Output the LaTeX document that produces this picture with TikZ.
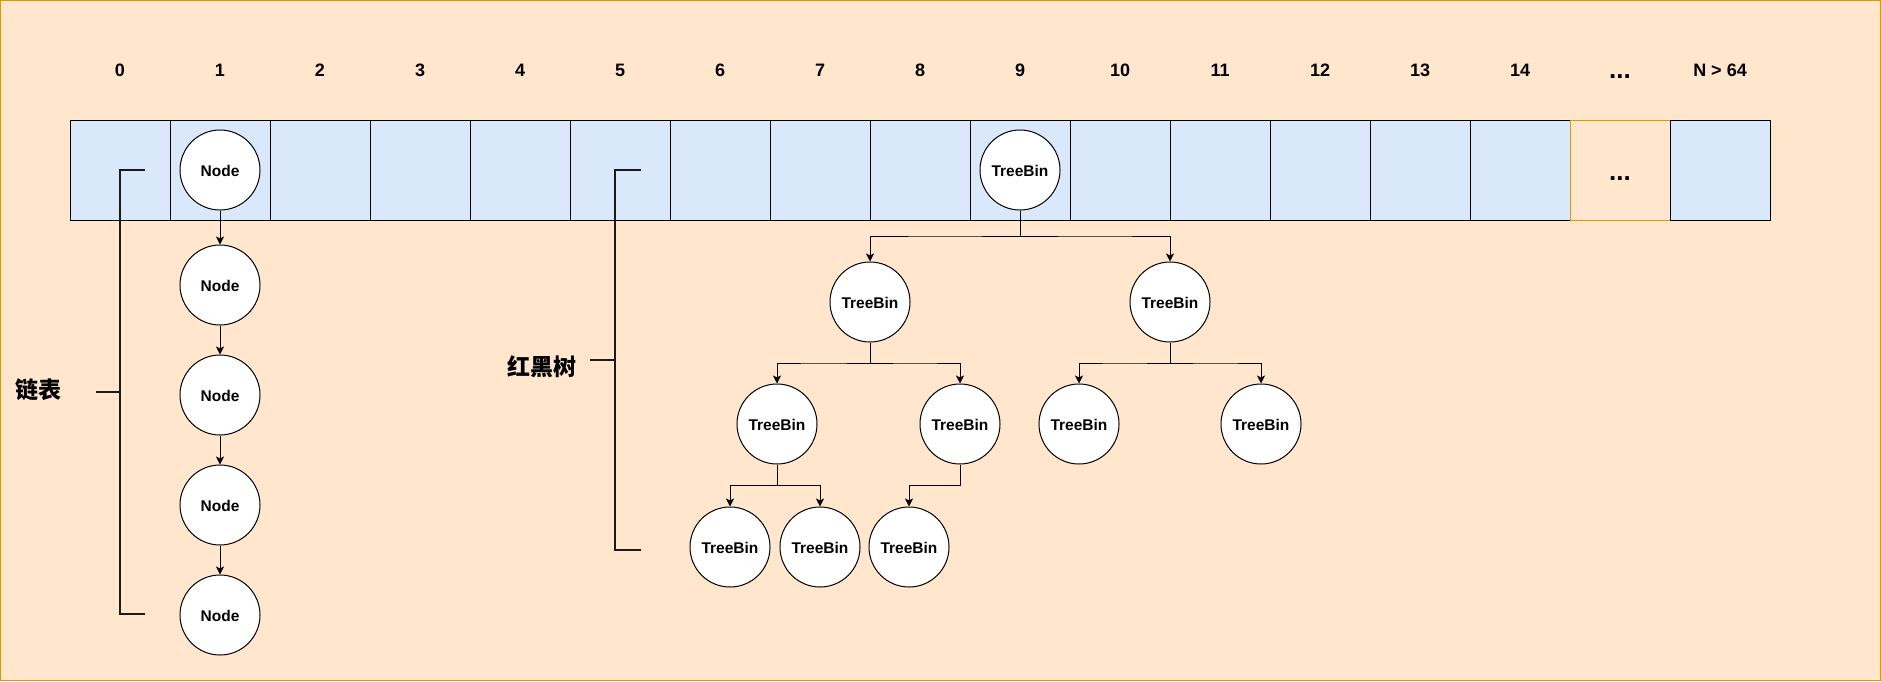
\documentclass[tikz,border=0pt]{standalone}
\usepackage{fontspec}
\setmainfont{Liberation Sans}
\newfontfamily\cjk{Noto Sans CJK SC}
\usetikzlibrary{arrows.meta,calc}

\definecolor{paper}{HTML}{FFE6CC}
\definecolor{paperline}{HTML}{D79B00}
\definecolor{slotfill}{HTML}{DAE8FC}
\definecolor{ink}{HTML}{1A1A1A}

\tikzset{
  slot/.style={draw=black, fill=slotfill, line width=1pt, minimum width=100pt,
    minimum height=100pt, inner sep=0pt, outer sep=0pt},
  gapslot/.style={slot, draw=paperline, fill=paper},
  idx/.style={anchor=base, inner sep=0pt, font=\bfseries\fontsize{18}{21}\selectfont},
  dots/.style={anchor=base, inner sep=0pt, font=\bfseries\fontsize{26}{30}\selectfont},
  ball/.style={circle, draw=black, fill=white, line width=1pt, minimum size=80pt,
    inner sep=0pt, font=\bfseries\fontsize{15.5}{18}\selectfont,
    text height=12.6pt, text depth=0pt},
  link/.style={line width=1pt, -{Stealth[length=8pt,width=8pt,inset=2pt]}},
  branch/.style={link,
    to path={|- ($(\tikztostart)!0.5!(\tikztotarget)$) -| (\tikztotarget) \tikztonodes}},
  brace/.style={draw=ink, line width=2pt, line cap=butt, line join=miter},
  tag/.style={anchor=base, inner sep=0pt, font=\cjk\bfseries\fontsize{23}{27}\selectfont},
}

\begin{document}
\begin{tikzpicture}[x=1pt, y=-1pt]
  % canvas
  \useasboundingbox (0,0) rectangle (1881,681);
  \fill[paper] (0,0) rectangle (1881,681);
  \draw[paperline, line width=1.2pt] (0.6,0.6) rectangle (1880.4,680.4);

  % bucket indices
  \foreach \k in {0,...,14}
    \node[idx] (i\k) at (120+100*\k, 76) {\k};
  \node[dots] (i15) at (1620, 78) {...};
  \node[idx] (i16) at (1720, 76) {N > 64};

  % bucket array
  \foreach \k in {0,...,14}
    \node[slot] (c\k) at (120+100*\k, 170) {};
  \node[gapslot] (c15) at (1620, 170) {};
  \node[dots] (cdots) at (1620, 180) {...};
  \node[slot] (c16) at (1720, 170) {};

  % linked list hanging from bucket 1
  \node[ball] (n1) at (220, 170) {Node};
  \node[ball] (n2) at (220, 285) {Node};
  \node[ball] (n3) at (220, 395) {Node};
  \node[ball] (n4) at (220, 505) {Node};
  \node[ball] (n5) at (220, 615) {Node};
  \draw[link] (n1.south) -- (n2.north);
  \draw[link] (n2.south) -- (n3.north);
  \draw[link] (n3.south) -- (n4.north);
  \draw[link] (n4.south) -- (n5.north);

  % red-black tree hanging from bucket 9
  \node[ball] (t0) at (1020, 170) {TreeBin};
  \node[ball] (ta) at (870, 302) {TreeBin};
  \node[ball] (tb) at (1170, 302) {TreeBin};
  \node[ball] (tc) at (777, 424) {TreeBin};
  \node[ball] (td) at (960, 424) {TreeBin};
  \node[ball] (te) at (1079, 424) {TreeBin};
  \node[ball] (tf) at (1261, 424) {TreeBin};
  \node[ball] (tg) at (730, 547) {TreeBin};
  \node[ball] (th) at (820, 547) {TreeBin};
  \node[ball] (ti) at (909, 547) {TreeBin};
  \draw[branch] (t0.south) to (ta.north);
  \draw[branch] (t0.south) to (tb.north);
  \draw[branch] (ta.south) to (tc.north);
  \draw[branch] (ta.south) to (td.north);
  \draw[branch] (tb.south) to (te.north);
  \draw[branch] (tb.south) to (tf.north);
  \draw[branch] (tc.south) to (tg.north);
  \draw[branch] (tc.south) to (th.north);
  \draw[branch] (td.south) to (ti.north);

  % bracket for the linked list
  \coordinate (la) at (145, 170);
  \coordinate (lb) at (120, 170);
  \coordinate (lc) at (120, 614);
  \coordinate (ld) at (145, 614);
  \coordinate (le) at (96, 392);
  \coordinate (lf) at (120, 392);
  \draw[brace] (la) -- (lb) -- (lc) -- (ld);
  \draw[brace] (le) -- (lf);
  \node[tag] (listtag) at (38, 398) {链表};

  % bracket for the tree
  \coordinate (ra) at (641, 170);
  \coordinate (rb) at (615, 170);
  \coordinate (rc) at (615, 550);
  \coordinate (rd) at (641, 550);
  \coordinate (re) at (590, 360);
  \coordinate (rf) at (615, 360);
  \draw[brace] (ra) -- (rb) -- (rc) -- (rd);
  \draw[brace] (re) -- (rf);
  \node[tag] (treetag) at (542, 375) {红黑树};
\end{tikzpicture}
\end{document}
